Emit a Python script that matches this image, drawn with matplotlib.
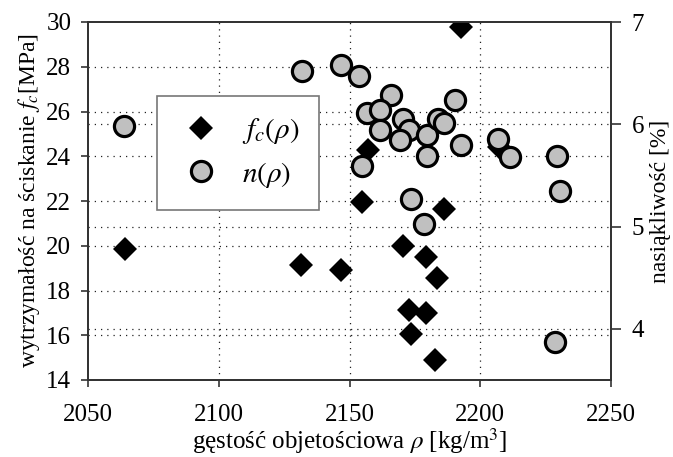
import matplotlib
matplotlib.use("Agg")
import matplotlib.pyplot as plt
from matplotlib.lines import Line2D
from matplotlib.transforms import blended_transform_factory

plt.rcParams['font.family'] = ['Liberation Serif', 'DejaVu Serif']
plt.rcParams['mathtext.fontset'] = 'stix'

# compressive strength f_c vs density
rho_f = [2064, 2131.6, 2146.8, 2154.8, 2157, 2192.6, 2186, 2207, 2170.4,
         2179.3, 2183.3, 2172.9, 2179.3, 2173.5, 2182.8]
fc = [19.85, 19.14, 18.92, 21.97, 24.28, 29.76, 21.63, 24.4, 19.99,
      19.51, 18.55, 17.13, 17.01, 16.04, 14.89]

# water absorption n vs density
rho_n = [2063.9, 2131.8, 2146.8, 2153.6, 2154.7, 2165.7, 2156.7, 2161.7,
         2170.6, 2161.7, 2172.9, 2169.5, 2179.7, 2179.5, 2183.7, 2186.3,
         2190.5, 2192.6, 2206.6, 2211.5, 2229.5, 2230.4, 2173.5, 2178.6,
         2228.5]
n = [5.98, 6.52, 6.58, 6.47, 5.59, 6.29, 6.11, 6.14, 6.05, 5.94, 5.94,
     5.85, 5.90, 5.69, 6.05, 6.01, 6.24, 5.80, 5.86, 5.68, 5.69, 5.35,
     5.27, 5.03, 3.87]

left_ticks = [14, 16, 18, 20, 22, 24, 26, 28, 30]
right_ticks = [4, 5, 6, 7]
x_ticks = [2050, 2100, 2150, 2200, 2250]

fig = plt.figure(figsize=(6.73, 4.57), dpi=100)
ax = fig.add_axes([88 / 673, 1 - 380 / 457, (611 - 88) / 673, (380 - 22) / 457])
ax2 = ax.twinx()

grid_kw = dict(color='#222222', linestyle=(0, (1, 4)), linewidth=0.9, zorder=0.5)

ax.set_xlim(2050, 2250)
ax.set_ylim(14, 30)
ax2.set_ylim(3.5, 7)
ax.set_xticks(x_ticks)
ax.set_yticks(left_ticks)
ax2.set_yticks(right_ticks)

# grid lines (all drawn on the lower axes so markers sit on top)
for xv in x_ticks[1:-1]:
    ax.axvline(xv, **grid_kw)
for yv in left_ticks[1:-1]:
    ax.axhline(yv, **grid_kw)
tr = blended_transform_factory(ax.transAxes, ax2.transData)
for yv in right_ticks[:-1]:
    ax.plot([0, 1], [yv, yv], transform=tr, **grid_kw)

ax.plot(rho_f, fc, linestyle='none', marker='D', markersize=12.5,
        color='black', markeredgewidth=0, zorder=3)
ax2.plot(rho_n, n, linestyle='none', marker='o', markersize=14.5,
         markerfacecolor='#c0c0c0', markeredgecolor='black',
         markeredgewidth=2.3, zorder=3)

for a in (ax, ax2):
    for s in a.spines.values():
        s.set_color('#333333')
        s.set_linewidth(1.3)
ax.tick_params(axis='x', direction='out', length=5, width=1.2,
               labelsize=18, color='#333333', pad=12)
ax.tick_params(axis='y', direction='out', length=5, width=1.2,
               labelsize=18, color='#333333', pad=7)
ax2.tick_params(axis='y', direction='out', length=7, width=1.2,
                labelsize=18, color='#333333', pad=8)

ax.set_xlabel(r'gęstość objetościowa $\rho$ [kg/m$^3$]', fontsize=18, labelpad=0)
ax.set_ylabel(r'wytrzymałość na ściskanie $f_c$[MPa]', fontsize=17, labelpad=3)
ax2.set_ylabel('nasiąkliwość [%]', fontsize=17, labelpad=4)

handles = [
    Line2D([], [], linestyle='none', marker='D', markersize=12.5,
           color='black', markeredgewidth=0),
    Line2D([], [], linestyle='none', marker='o', markersize=14.5,
           markerfacecolor='#c0c0c0', markeredgecolor='black',
           markeredgewidth=2.3),
]
leg = ax2.legend(handles, [r'$f_c(\rho)$', r'$n(\rho)$'],
                 loc='upper left', bbox_to_anchor=(157 / 673, 1 - 96 / 457),
                 bbox_transform=fig.transFigure, fontsize=21, frameon=True,
                 fancybox=False, edgecolor='#777777', framealpha=1,
                 borderpad=0.7, labelspacing=0.45, handletextpad=0.6,
                 handlelength=1.6, borderaxespad=0)
leg.get_frame().set_linewidth(1.2)

fig.savefig('out.png', dpi=100)
